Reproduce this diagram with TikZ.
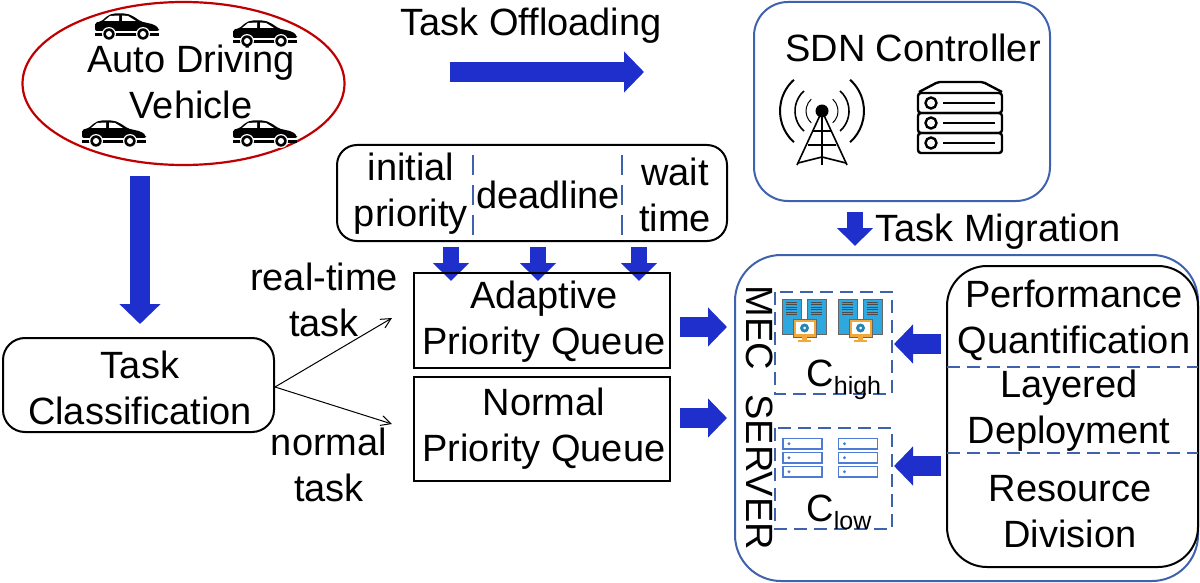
\documentclass[tikz,border=0pt]{standalone}
\usepackage{fontspec}
\setmainfont{Liberation Sans}
\usetikzlibrary{arrows.meta,calc,shapes.geometric}
\definecolor{bluearrow}{HTML}{1F2FCB}
\definecolor{edgeblue}{HTML}{3F62AE}
\definecolor{redring}{HTML}{C00000}
\definecolor{towerblue}{HTML}{2FA8E0}
\definecolor{monorange}{HTML}{F2A83B}
\definecolor{rackblue}{HTML}{4E7BD6}
\tikzset{
  x=0.5pt,y=-0.5pt,
  lab/.style={font=\fontsize{19}{23}\selectfont,align=center,inner sep=0pt,text=black},
  blackbox/.style={draw=black,line width=1pt},
  blueedge/.style={draw=edgeblue,line width=1pt},
  dashedge/.style={draw=edgeblue,line width=0.8pt,dash pattern=on 6.5pt off 3.5pt},
  longdash/.style={draw=edgeblue,line width=0.8pt,dash pattern=on 10pt off 5pt},
  offarrow/.style={draw=bluearrow,-{Triangle[length=10pt,width=20pt,fill=bluearrow]},line width=10pt},
  midarrow/.style={draw=bluearrow,-{Triangle[length=9.5pt,width=19pt,fill=bluearrow]},line width=10pt},
  smallarrow/.style={draw=bluearrow,-{Triangle[length=9pt,width=17.5pt,fill=bluearrow]},line width=8pt},
  thinarrow/.style={draw=black,line width=0.5pt,-{Straight Barb[length=5pt,width=5pt]}},
  carpic/.pic={
    \fill[black,rounded corners=1pt] (0,17.5)--(0,9)--(6,8)--(13,2)--(18,0)--(31,0)--(37,2)--(46,8)--(59,11)--(64,15)--(64,17.5)--cycle;
    \fill[white] (15,2.5)--(24,2)--(24,7.5)--(9,7.5)--cycle (27,2)--(33,2.5)--(41,7.5)--(27,7.5)--cycle;
    \fill[black] (0,19.5) rectangle (64,22.5);
    \foreach \wx in {14,48}{\fill[white] (\wx,20.5) circle (7); \fill[black] (\wx,20.5) circle (5.7); \fill[white] (\wx,20.5) circle (3);}
  },
  hostpic/.pic={
    \foreach \tx in {0,25}{
      \fill[towerblue,draw=black!60,line width=.3pt] (\tx,0) rectangle ++(19,35);
      \foreach \ly in {3,5.5,8,10.5,13,15.5}{\draw[black!70,line width=.5pt] (\tx+4,\ly)--(\tx+15,\ly);}
    }
    \fill[monorange,draw=black!60,line width=.3pt] (11,20) rectangle (34,38);
    \fill[white] (13.5,22.5) rectangle (31.5,35);
    \fill[towerblue!80!black] (22.5,29) circle (4.5);
    \fill[white] (22.5,29) circle (1.5);
    \fill[monorange] (20,38) rectangle (25,41);
    \fill[monorange] (16,41) rectangle (29,43);
  },
  rackpic/.pic={
    \foreach \ry in {0,14,28}{
      \draw[rackblue,line width=.8pt] (0,\ry) rectangle ++(39,10.5);
      \fill[rackblue] (6,\ry+5.2) circle (1.6);
    }
  }
}
\begin{document}
\begin{tikzpicture}
\useasboundingbox (0,0) rectangle (1200,583);
% vehicles
\node[draw=redring,line width=1.1pt,shape=ellipse,minimum width=161pt,minimum height=81.5pt,inner sep=0pt] (veh) at (183.5,83.5) {};
\pic at (95,13.5) {carpic};
\pic at (233,20.5) {carpic};
\pic at (82,120.5) {carpic};
\pic at (233,120.5) {carpic};
\node[lab] (vehlab) at (191,82) {Auto Driving\\Vehicle};
% offloading
\node[lab] (off) at (531,26) {Task Offloading};
\coordinate (offs) at (450,72); \coordinate (offe) at (644,72);
\draw[offarrow] (offs) -- (offe);
\coordinate (vs) at (140,176); \coordinate (ve) at (140,324);
\draw[offarrow] (vs) -- (ve);
% task classification
\draw[blackbox,rounded corners=11pt] (3,338) rectangle (274,432);
\node[inner sep=0pt] (tc) at (275,387) {};
\node[lab] (tclab) at (140,388) {Task\\Classification};
% attrs
\draw[blackbox,rounded corners=10pt] (337,145) rectangle (727,241);
\node[lab] (ip) at (411,194) {initial\\priority};
\node[lab] (dl) at (548,195) {deadline};
\node[lab] (wt) at (675,195) {wait\\time};
\draw[longdash] (473,155) -- (473,237);
\draw[longdash] (622,155) -- (622,237);
\foreach \ax/\an in {451/a,538/b,639/c}{
  \coordinate (s\an) at (\ax,247); \coordinate (e\an) at (\ax,281);
  \draw[smallarrow] (s\an) -- (e\an);
}
% queues
\draw[blackbox] (414,273) rectangle (670,368);
\draw[blackbox] (414,377) rectangle (670,481);
\node[lab] (apq) at (544,322) {Adaptive\\Priority Queue};
\node[lab] (npq) at (544,429) {Normal\\Priority Queue};
\coordinate (rt) at (392,318); \coordinate (nt) at (392,424);
\draw[thinarrow] (tc.center) -- (rt);
\draw[thinarrow] (tc.center) -- (nt);
\node[lab] (rtl) at (324,300) {real-time\\task};
\node[lab] (ntl) at (329,465) {normal\\task};
% SDN
\draw[blueedge,rounded corners=17pt] (754,2) rectangle (1050,201);
\node[lab] (sdn) at (913,48) {SDN Controller};
% tower
\begin{scope}[black]
\fill (822,111) circle (6.5);
\draw[line width=.8pt] (822,111) -- (797,165) (822,111) -- (847,165) (822,111) -- (822,165);
\draw[line width=.8pt] (813,131) -- (831,131) (808,145) -- (836,145) (798,163) -- (822,157) -- (846,163);
\foreach \r/\w in {16/.5,27/.8,42/1}{
  \draw[line width=\w pt] (822,111) ++(132:\r) arc[start angle=132,end angle=228,radius=\r];
  \draw[line width=\w pt] (822,111) ++(48:\r) arc[start angle=48,end angle=-48,radius=\r];
}
\end{scope}
% server icon
\begin{scope}[black,line width=1.2pt]
\draw[rounded corners=1pt] (919,92) -- (938,82) -- (983,82) -- (1002,92);
\foreach \ry in {93,113,133}{
  \draw[rounded corners=1.5pt] (918,\ry) rectangle (1002,\ry+20);
  \draw (931,\ry+10) circle (5.5);
  \draw[line width=1.4pt] (943,\ry+10) -- (995,\ry+10);
}
\end{scope}
% migration
\coordinate (ms) at (855,212); \coordinate (me) at (855,246);
\draw[smallarrow] (ms) -- (me);
\node[lab] (mig) at (998,232) {Task Migration};
% MEC
\draw[blueedge,rounded corners=23pt] (735,255) rectangle (1198,581);
\node[lab,rotate=-90] (mec) at (760,418) {MEC\hspace{12pt}SERVER};
\draw[dashedge] (775,292) rectangle (892,394);
\draw[dashedge] (775,428) rectangle (892,529);
\pic at (782,299) {hostpic};
\pic at (838,299) {hostpic};
\pic at (783,438.5) {rackpic};
\pic at (838.5,438.5) {rackpic};
\node[lab,anchor=base west] (ch) at (806,386) {C\raisebox{-4pt}{\fontsize{12.5}{14}\selectfont high}};
\node[lab,anchor=base west] (cl) at (806,521) {C\raisebox{-4pt}{\fontsize{12.5}{14}\selectfont low}};
% right column
\draw[blackbox,rounded corners=20pt] (947,266) rectangle (1198,567);
\draw[dashedge] (947,367) -- (1198,367);
\draw[dashedge] (947,453) -- (1198,453);
\node[lab] (pq) at (1074,320) {Performance\\Quantification};
\node[lab] (ld) at (1069,411) {Layered\\Deployment};
\node[lab] (rd) at (1070,512) {Resource\\Division};
% output arrows
\coordinate (q1s) at (680,327); \coordinate (q1e) at (727,327);
\coordinate (q2s) at (680,418); \coordinate (q2e) at (727,418);
\coordinate (l1s) at (941,344); \coordinate (l1e) at (894,344);
\coordinate (l2s) at (941,466); \coordinate (l2e) at (894,466);
\draw[midarrow] (q1s) -- (q1e);
\draw[midarrow] (q2s) -- (q2e);
\draw[midarrow] (l1s) -- (l1e);
\draw[midarrow] (l2s) -- (l2e);
\end{tikzpicture}
\end{document}
